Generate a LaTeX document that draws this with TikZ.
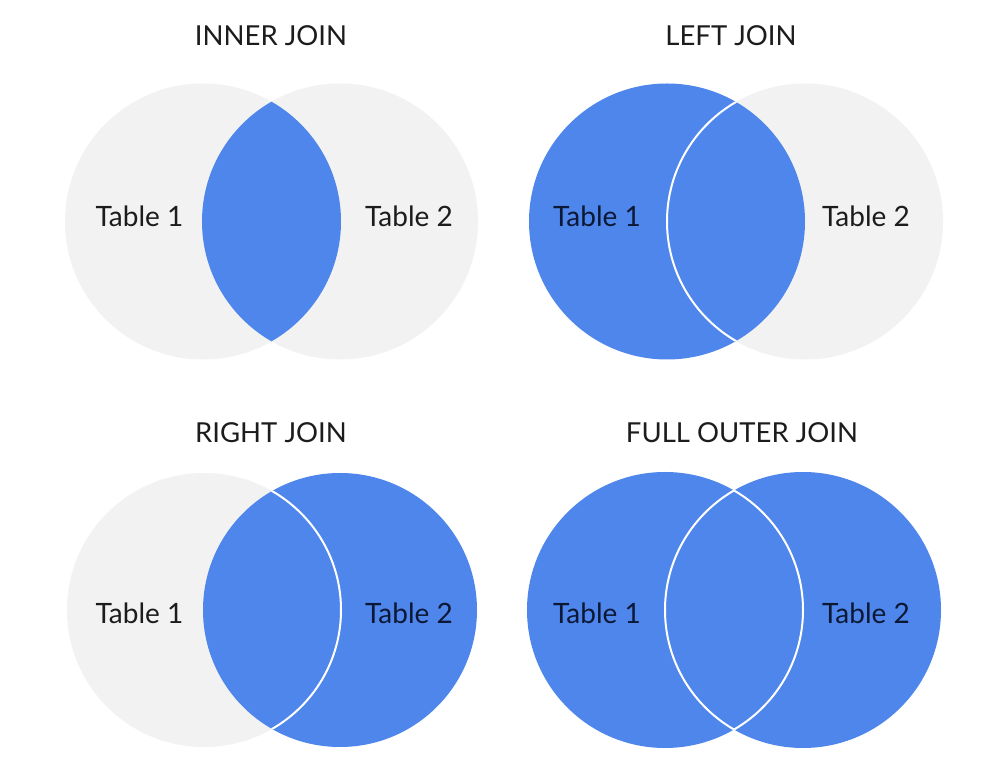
\documentclass[tikz,border=0pt]{standalone}
\usepackage{fontspec}
\setmainfont{Lato}
\definecolor{joinblue}{RGB}{78,134,236}
\definecolor{tablegray}{RGB}{242,242,242}
\definecolor{inktext}{RGB}{28,28,30}
\definecolor{inkblue}{RGB}{12,24,52}
\tikzset{
	title/.style={anchor=base, text=inktext, font=\fontsize{27.5}{32}\selectfont},
	tablename/.style={anchor=base, text=inktext, font=\fontsize{28}{32}\selectfont},
	onblue/.style={tablename, text=inkblue},
	rim/.style={draw=white, line width=2pt}
}
\begin{document}
\begin{tikzpicture}[x=1pt, y=1pt]
		\useasboundingbox[fill=white] (0,0) rectangle (1005,766);

		% inner join
		\fill[tablegray] (203,544.5) circle[radius=138];
		\fill[tablegray] (340,544.5) circle[radius=138];
		\begin{scope}
			\clip (203,544.5) circle[radius=138];
			\fill[joinblue] (340,544.5) circle[radius=138];
		\end{scope}
		\node[title] (innerT) at (271,720) {INNER JOIN};
		\node[tablename] (innerA) at (139.5,539) {Table 1};
		\node[tablename] (innerB) at (409,539) {Table 2};

		% left join
		\fill[tablegray] (805,544.5) circle[radius=138];
		\fill[joinblue] (667,544.5) circle[radius=138];
		\begin{scope}
			\clip (667,544.5) circle[radius=138];
			\draw[rim] (805,544.5) circle[radius=138];
		\end{scope}
		\node[title] (leftT) at (731,720) {LEFT JOIN};
		\node[onblue] (leftA) at (597,539) {Table 1};
		\node[tablename] (leftB) at (866,539) {Table 2};

		% right join
		\fill[tablegray] (204,156) circle[radius=137];
		\fill[joinblue] (340,156) circle[radius=137];
		\begin{scope}
			\clip (340,156) circle[radius=137];
			\draw[rim] (204,156) circle[radius=137];
		\end{scope}
		\node[title] (rightT) at (271,323) {RIGHT JOIN};
		\node[tablename] (rightA) at (139.5,142) {Table 1};
		\node[onblue] (rightB) at (409,142) {Table 2};

		% full outer join
		\fill[joinblue] (665,156) circle[radius=138];
		\fill[joinblue] (803,156) circle[radius=138];
		\begin{scope}
			\clip (665,156) circle[radius=138];
			\draw[rim] (803,156) circle[radius=138];
		\end{scope}
		\begin{scope}
			\clip (803,156) circle[radius=138];
			\draw[rim] (665,156) circle[radius=138];
		\end{scope}
		\node[title] (fullT) at (742,323) {FULL OUTER JOIN};
		\node[onblue] (fullA) at (597,142) {Table 1};
		\node[onblue] (fullB) at (866,142) {Table 2};
	\end{tikzpicture}
\end{document}
